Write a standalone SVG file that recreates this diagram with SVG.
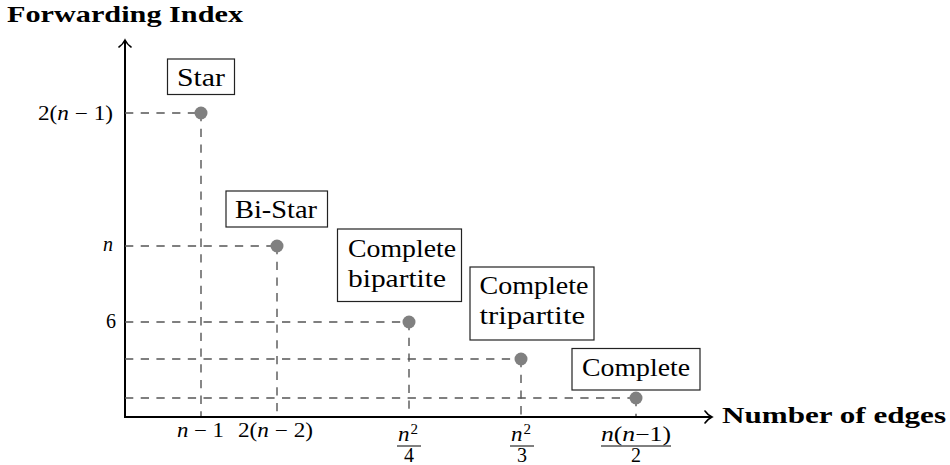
<svg xmlns="http://www.w3.org/2000/svg" width="950" height="465" viewBox="0 0 950 465">
<style>
text{font-family:"Liberation Serif","DejaVu Serif",serif;fill:#000}
.title{font-weight:bold;font-size:23px}
.box{fill:#fff;stroke:#222;stroke-width:1.2}
.lbl{font-family:"Liberation Serif","DejaVu Serif",serif;font-size:26px}
.tick{font-size:20px}
.frac{font-size:20px}
.sup{font-size:15px}
.it{font-style:italic}
.dash{stroke:#555;stroke-width:1.4;stroke-dasharray:8.3 7.4;fill:none}
.dot{fill:#808080}
.axis{stroke:#000;stroke-width:2;fill:none}
.bar{stroke:#000;stroke-width:1}
</style>
<defs>
<marker id="arr" viewBox="-9 -8 11 16" refX="0" refY="0" markerWidth="11" markerHeight="16" markerUnits="userSpaceOnUse" orient="auto">
<path d="M-7,-6 C-5,-3 -2,-1 0,0 C-2,1 -5,3 -7,6" fill="none" stroke="#000" stroke-width="1.6" stroke-linecap="round"/>
</marker>
</defs>
<g id="axes">
<path class="axis" d="M125,417 L125,40" marker-end="url(#arr)"/>
<path class="axis" d="M124,417 L712,417" marker-end="url(#arr)"/>
<text class="title" x="7" y="22" textLength="236" lengthAdjust="spacingAndGlyphs">Forwarding Index</text>
<text class="title" x="722" y="423" textLength="224" lengthAdjust="spacingAndGlyphs">Number of edges</text>
</g>
<g id="connectors">
<path class="dash" d="M125,113 L201,113 M201,113 L201,416"/>
<path class="dash" d="M125,246 L277,246 M277,246 L277,416"/>
<path class="dash" d="M125,322 L409,322 M409,322 L409,416"/>
<path class="dash" d="M125,359 L521,359 M521,359 L521,416"/>
<path class="dash" d="M125,398 L636,398 M636,398 L636,416"/>
</g>
<g id="ticks">
<text class="tick" x="38" y="120" textLength="75" lengthAdjust="spacingAndGlyphs">2(<tspan class="it">n</tspan> − 1)</text>
<text class="tick it" x="103" y="251">n</text>
<text class="tick" x="106" y="328">6</text>
<text class="tick" x="177" y="437" textLength="47" lengthAdjust="spacingAndGlyphs"><tspan class="it">n</tspan> − 1</text>
<text class="tick" x="238" y="437" textLength="75" lengthAdjust="spacingAndGlyphs">2(<tspan class="it">n</tspan> − 2)</text>
<text class="frac it" x="398" y="441" textLength="11.5" lengthAdjust="spacingAndGlyphs">n</text>
<text class="sup" x="410.5" y="433.5">2</text>
<line class="bar" x1="397" y1="446" x2="421" y2="446"/>
<text class="frac" x="409" y="461.5" text-anchor="middle">4</text>
<text class="frac it" x="511" y="441" textLength="11.5" lengthAdjust="spacingAndGlyphs">n</text>
<text class="sup" x="523.5" y="433.5">2</text>
<line class="bar" x1="510" y1="446" x2="534" y2="446"/>
<text class="frac" x="522" y="461.5" text-anchor="middle">3</text>
<text class="frac" x="601" y="441" textLength="70" lengthAdjust="spacingAndGlyphs"><tspan class="it">n</tspan>(<tspan class="it">n</tspan>−1)</text>
<line class="bar" x1="601" y1="446" x2="671" y2="446"/>
<text class="frac" x="636" y="461.5" text-anchor="middle">2</text>
</g>
<g id="star">
<circle class="dot" cx="201" cy="113" r="6.5"/>
<rect class="box" x="167.5" y="59" width="67" height="35.5"/>
<text class="lbl" x="177" y="86" textLength="48" lengthAdjust="spacingAndGlyphs">Star</text>
</g>
<g id="bistar">
<circle class="dot" cx="277" cy="246" r="6.5"/>
<rect class="box" x="226" y="191" width="101.5" height="36"/>
<text class="lbl" x="235" y="218" textLength="82" lengthAdjust="spacingAndGlyphs">Bi-Star</text>
</g>
<g id="bipartite">
<circle class="dot" cx="409" cy="322" r="6.5"/>
<rect class="box" x="337.5" y="229" width="124" height="72.5"/>
<text class="lbl" x="348" y="257" textLength="108" lengthAdjust="spacingAndGlyphs">Complete</text>
<text class="lbl" x="348" y="287" textLength="98" lengthAdjust="spacingAndGlyphs">bipartite</text>
</g>
<g id="tripartite">
<circle class="dot" cx="521" cy="359" r="6.5"/>
<rect class="box" x="470" y="267" width="124" height="73"/>
<text class="lbl" x="479.5" y="294" textLength="109" lengthAdjust="spacingAndGlyphs">Complete</text>
<text class="lbl" x="479.5" y="324" textLength="105.5" lengthAdjust="spacingAndGlyphs">tripartite</text>
</g>
<g id="complete">
<circle class="dot" cx="636" cy="398" r="6.5"/>
<rect class="box" x="572" y="348.5" width="128" height="41.5"/>
<text class="lbl" x="582" y="376" textLength="108" lengthAdjust="spacingAndGlyphs">Complete</text>
</g>
</svg>
